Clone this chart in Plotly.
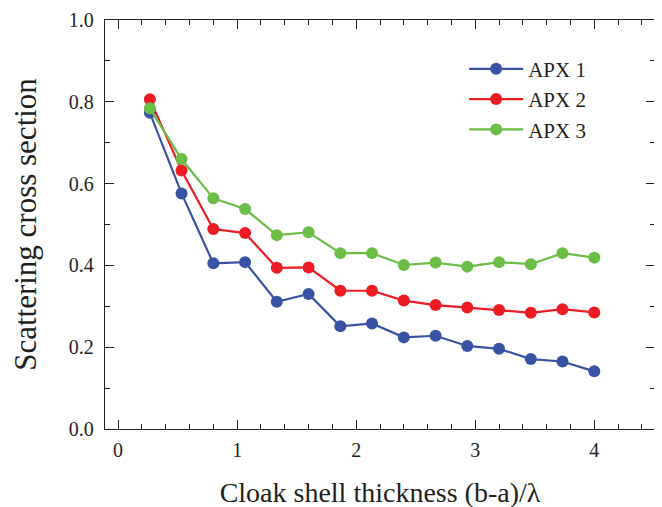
import plotly.graph_objects as go

thickness = [0.267, 0.533, 0.8, 1.067, 1.333, 1.6, 1.867, 2.133, 2.4, 2.667, 2.933, 3.2, 3.467, 3.733, 4.0]
apx1 = [0.773, 0.576, 0.405, 0.408, 0.311, 0.330, 0.251, 0.258, 0.224, 0.228, 0.203, 0.196, 0.171, 0.165, 0.141]
apx2 = [0.806, 0.632, 0.489, 0.479, 0.394, 0.395, 0.338, 0.338, 0.314, 0.303, 0.297, 0.291, 0.284, 0.293, 0.285]
apx3 = [0.784, 0.660, 0.564, 0.538, 0.474, 0.481, 0.430, 0.430, 0.401, 0.407, 0.397, 0.408, 0.403, 0.430, 0.419]

series = [("APX 1", apx1, "#3953A4"), ("APX 2", apx2, "#ED1C24"), ("APX 3", apx3, "#6ABD45")]

fig = go.Figure()
for name, vals, col in series:
    fig.add_trace(go.Scatter(x=thickness, y=vals, name=name, mode="lines+markers",
                             line=dict(color=col, width=2.2),
                             marker=dict(color=col, size=12)))

font = "Liberation Serif"
ink = "#231F20"
axis_common = dict(showline=True, linecolor=ink, linewidth=1.3, mirror="ticks",
                   ticks="inside", ticklen=9, tickwidth=1.2, tickcolor=ink,
                   showgrid=False, zeroline=False, automargin=False,
                   tickfont=dict(family=font, size=20, color=ink))

fig.update_layout(
    width=662, height=507,
    margin=dict(l=97, r=15, t=12, b=86),
    paper_bgcolor="white", plot_bgcolor="white",
    font=dict(family=font, color=ink),
    xaxis=dict(range=[-0.11, 4.51], tickvals=[0, 1, 2, 3, 4], ticklabelstandoff=3,
               minor=dict(ticks="inside", ticklen=5, dtick=0.2, tick0=0, tickcolor=ink),
               title=dict(text="Cloak shell thickness (b-a)/λ", font=dict(family=font, size=28, color=ink), standoff=22),
               **axis_common),
    yaxis=dict(range=[0, 1.0], tickvals=[0, 0.2, 0.4, 0.6, 0.8, 1.0], tickformat=".1f",
               ticklabelstandoff=6,
               minor=dict(ticks="inside", ticklen=5, dtick=0.1, tick0=0, tickcolor=ink),
               title=dict(text="Scattering cross section", font=dict(family=font, size=31, color=ink), standoff=22),
               **axis_common),
    legend=dict(x=0.653, y=0.93, xanchor="left", yanchor="top", bgcolor="rgba(0,0,0,0)",
                font=dict(family=font, size=21, color=ink), tracegroupgap=0,
                itemwidth=54),
    showlegend=True,
)

fig.write_html("out.html")
